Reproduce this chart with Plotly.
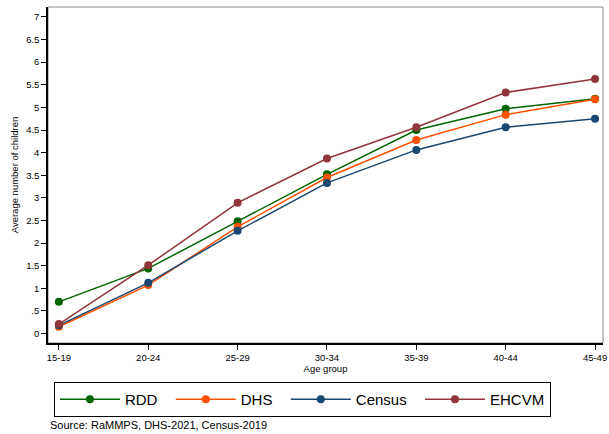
import plotly.graph_objects as go

# Average number of children ever born, by mother's age group and data source
age_groups = ["15-19", "20-24", "25-29", "30-34", "35-39", "40-44", "45-49"]
rdd = [0.70, 1.44, 2.48, 3.52, 4.50, 4.97, 5.19]
dhs = [0.15, 1.07, 2.36, 3.45, 4.28, 4.84, 5.18]
census = [0.18, 1.12, 2.27, 3.33, 4.06, 4.56, 4.75]
ehcvm = [0.21, 1.51, 2.89, 3.87, 4.56, 5.33, 5.63]

y_ticks = [0, 0.5, 1, 1.5, 2, 2.5, 3, 3.5, 4, 4.5, 5, 5.5, 6, 6.5, 7]
y_tick_text = ["0", ".5", "1", "1.5", "2", "2.5", "3", "3.5", "4", "4.5",
               "5", "5.5", "6", "6.5", "7"]

series = [
    ("RDD", rdd, "#006400"),
    ("DHS", dhs, "#ff5000"),
    ("Census", census, "#1a476f"),
    ("EHCVM", ehcvm, "#90353b"),
]

FONT = "Liberation Sans, Arial, sans-serif"
PAD = "\u00a0\u00a0"  # extra spacing between legend entries

fig = go.Figure()
x_pos = list(range(len(age_groups)))
for i, (name, vals, color) in enumerate(series):
    label = name if i == len(series) - 1 else name + PAD
    fig.add_trace(go.Scatter(
        x=x_pos, y=vals, name=label, mode="lines+markers",
        line=dict(color=color, width=1.5),
        marker=dict(color=color, size=8),
    ))

fig.update_layout(
    width=609, height=434,
    margin=dict(l=48, r=2, t=7, b=91),
    paper_bgcolor="white", plot_bgcolor="white",
    font=dict(family=FONT, color="#000000"),
    showlegend=True,
    legend=dict(
        orientation="h", x=0.0107, y=-0.116, xanchor="left", yanchor="top",
        bordercolor="#000000", borderwidth=1, bgcolor="white",
        font=dict(size=15, family=FONT),
        itemwidth=60,
    ),
    xaxis=dict(
        range=[-0.122, 6.089], tickvals=x_pos, ticktext=age_groups,
        showgrid=False, zeroline=False,
        showline=True, linecolor="#000000", linewidth=1.5,
        ticks="outside", ticklen=5, tickwidth=1, tickcolor="#000000",
        tickfont=dict(size=9.5), ticklabeloverflow="allow",
        title=dict(text="Age group", font=dict(size=9.5), standoff=1),
    ),
    yaxis=dict(
        range=[-0.21, 7.22], tickvals=y_ticks, ticktext=y_tick_text,
        showgrid=False, zeroline=False,
        showline=True, linecolor="#000000", linewidth=1.5,
        ticks="outside", ticklen=5, tickwidth=1, tickcolor="#000000",
        tickfont=dict(size=9.5),
        title=dict(text="Average number of children", font=dict(size=9.5), standoff=6),
    ),
    shapes=[dict(
        type="rect", xref="paper", yref="paper", x0=0, y0=0, x1=1, y1=1,
        line=dict(color="#888888", width=1), layer="below",
    )],
    annotations=[dict(
        text="Source: RaMMPS, DHS-2021, Census-2019",
        xref="paper", yref="paper", x=0.0, y=-0.22,
        xanchor="left", yanchor="top", showarrow=False,
        font=dict(size=11, family=FONT),
    )],
)

fig.write_html("out.html")
